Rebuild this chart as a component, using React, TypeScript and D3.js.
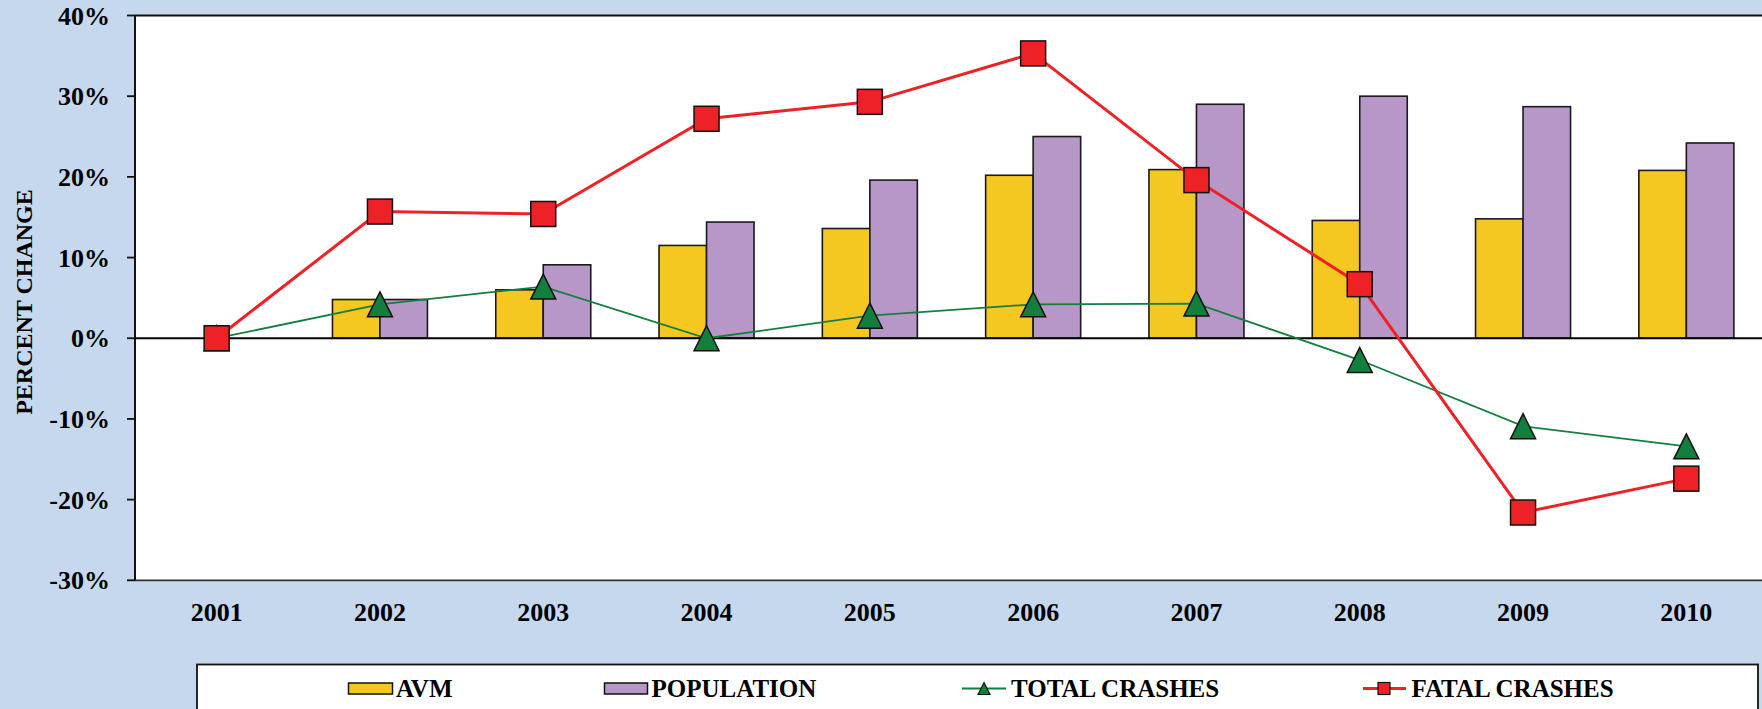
import React from "react";
import * as d3 from "d3";

const years = ["2001", "2002", "2003", "2004", "2005", "2006", "2007", "2008", "2009", "2010"];
const avm = [0, 4.8, 6.0, 11.5, 13.6, 20.2, 20.9, 14.6, 14.8, 20.8];
const population = [0, 4.8, 9.1, 14.4, 19.6, 25.0, 29.0, 30.0, 28.7, 24.2];
const totalCrashes = [0, 4.2, 6.4, 0.0, 2.8, 4.2, 4.3, -2.7, -10.9, -13.4];
const fatalCrashes = [0, 15.7, 15.4, 27.2, 29.3, 35.3, 19.6, 6.7, -21.6, -17.4];
const yTicks = [-30, -20, -10, 0, 10, 20, 30, 40];
const legendLabels = ["AVM", "POPULATION", "TOTAL CRASHES", "FATAL CRASHES"];

const W = 1762;
const H = 709;
const BG = "#c6d8ee";
const YELLOW = "#f5c721";
const PURPLE = "#b797c7";
const GREEN = "#137f3e";
const RED = "#ee2126";
const FONT = "'Liberation Serif', 'Times New Roman', serif";

const plotLeft = 135;
const plotTop = 15.5;
const plotBottom = 580.3;
const bandW = 163.3;

export default function App() {
  const x = d3.scaleBand<string>().domain(years).range([plotLeft, plotLeft + bandW * years.length]).padding(0);
  const y = d3.scaleLinear().domain([-30, 40]).range([plotBottom, plotTop]);
  const cx = (yr: string) => (x(yr) as number) + x.bandwidth() / 2;
  const barW = 47.5;

  const line = d3
    .line<number>()
    .x((_, i) => cx(years[i]))
    .y((d) => y(d));

  const tri = (s: number) => `M0,${-s / 2} L${s / 2},${s / 2} L${-s / 2},${s / 2} Z`;

  return (
    <svg
      width={W}
      height={H}
      style={{ position: "absolute", left: 0, top: 0, display: "block" }}
      fontFamily={FONT}
      fontWeight="bold"
    >
      <rect x={0} y={0} width={W} height={H} fill={BG} />
      <rect x={plotLeft} y={plotTop} width={W - plotLeft} height={plotBottom - plotTop} fill="#ffffff" />

      {/* bars */}
      {years.map((yr, i) => (
        <g key={"b" + yr}>
          {avm[i] !== 0 && (
            <rect
              x={cx(yr) - barW}
              y={y(Math.max(0, avm[i]))}
              width={barW}
              height={Math.abs(y(avm[i]) - y(0))}
              fill={YELLOW}
              stroke="#1a1a1a"
              strokeWidth={1.6}
            />
          )}
          {population[i] !== 0 && (
            <rect
              x={cx(yr)}
              y={y(Math.max(0, population[i]))}
              width={barW}
              height={Math.abs(y(population[i]) - y(0))}
              fill={PURPLE}
              stroke="#1a1a1a"
              strokeWidth={1.6}
            />
          )}
        </g>
      ))}

      {/* frame */}
      <line x1={plotLeft} x2={W} y1={plotTop} y2={plotTop} stroke="#111" strokeWidth={1.8} />
      <line x1={plotLeft} x2={W} y1={plotBottom} y2={plotBottom} stroke="#333" strokeWidth={1.8} />
      <line x1={plotLeft} x2={plotLeft} y1={plotTop} y2={plotBottom} stroke="#111" strokeWidth={2} />
      <line x1={plotLeft} x2={W} y1={y(0)} y2={y(0)} stroke="#000" strokeWidth={2.2} />

      {/* y ticks */}
      {yTicks.map((t) => (
        <g key={"t" + t}>
          <line x1={127} x2={plotLeft} y1={y(t)} y2={y(t)} stroke="#111" strokeWidth={1.8} />
          <text x={110} y={y(t)} dy="0.35em" textAnchor="end" fontSize={26} fill="#000">
            {t + "%"}
          </text>
        </g>
      ))}

      {/* x labels */}
      {years.map((yr) => (
        <text key={"x" + yr} x={cx(yr)} y={612} dy="0.35em" textAnchor="middle" fontSize={26} fill="#000">
          {yr}
        </text>
      ))}

      {/* y title */}
      <text
        transform={`translate(32,302) rotate(-90)`}
        textAnchor="middle"
        fontSize={24}
        fill="#000"
      >
        PERCENT CHANGE
      </text>

      {/* lines */}
      <path d={line(totalCrashes) || ""} fill="none" stroke={GREEN} strokeWidth={1.8} />
      <path d={line(fatalCrashes) || ""} fill="none" stroke={RED} strokeWidth={3} />

      {/* markers */}
      {totalCrashes.map((v, i) => (
        <path
          key={"tm" + i}
          d={tri(25)}
          transform={`translate(${cx(years[i])},${y(v)})`}
          fill={GREEN}
          stroke="#111"
          strokeWidth={1.5}
        />
      ))}
      {fatalCrashes.map((v, i) => (
        <rect
          key={"fm" + i}
          x={cx(years[i]) - 12.5}
          y={y(v) - 12.5}
          width={25}
          height={25}
          fill={RED}
          stroke="#111"
          strokeWidth={1.5}
        />
      ))}

      {/* legend */}
      <rect x={197} y={664.5} width={1561} height={60} fill="#fff" stroke="#111" strokeWidth={1.8} />
      <rect x={348.5} y={683} width={44} height={11} fill={YELLOW} stroke="#111" strokeWidth={1.5} />
      <text x={396} y={697} fontSize={25} fill="#000">{legendLabels[0]}</text>
      <rect x={604.5} y={683} width={43} height={11} fill={PURPLE} stroke="#111" strokeWidth={1.5} />
      <text x={651.5} y={697} fontSize={25} fill="#000">{legendLabels[1]}</text>
      <line x1={962} x2={1006} y1={688.5} y2={688.5} stroke={GREEN} strokeWidth={1.8} />
      <path d={tri(12)} transform="translate(984,688.5)" fill={GREEN} stroke="#111" strokeWidth={1.2} />
      <text x={1011} y={697} fontSize={25} fill="#000">{legendLabels[2]}</text>
      <line x1={1363} x2={1406} y1={688.5} y2={688.5} stroke={RED} strokeWidth={3} />
      <rect x={1378} y={682.5} width={12} height={12} fill={RED} stroke="#111" strokeWidth={1.2} />
      <text x={1411.5} y={697} fontSize={25} fill="#000">{legendLabels[3]}</text>
    </svg>
  );
}
